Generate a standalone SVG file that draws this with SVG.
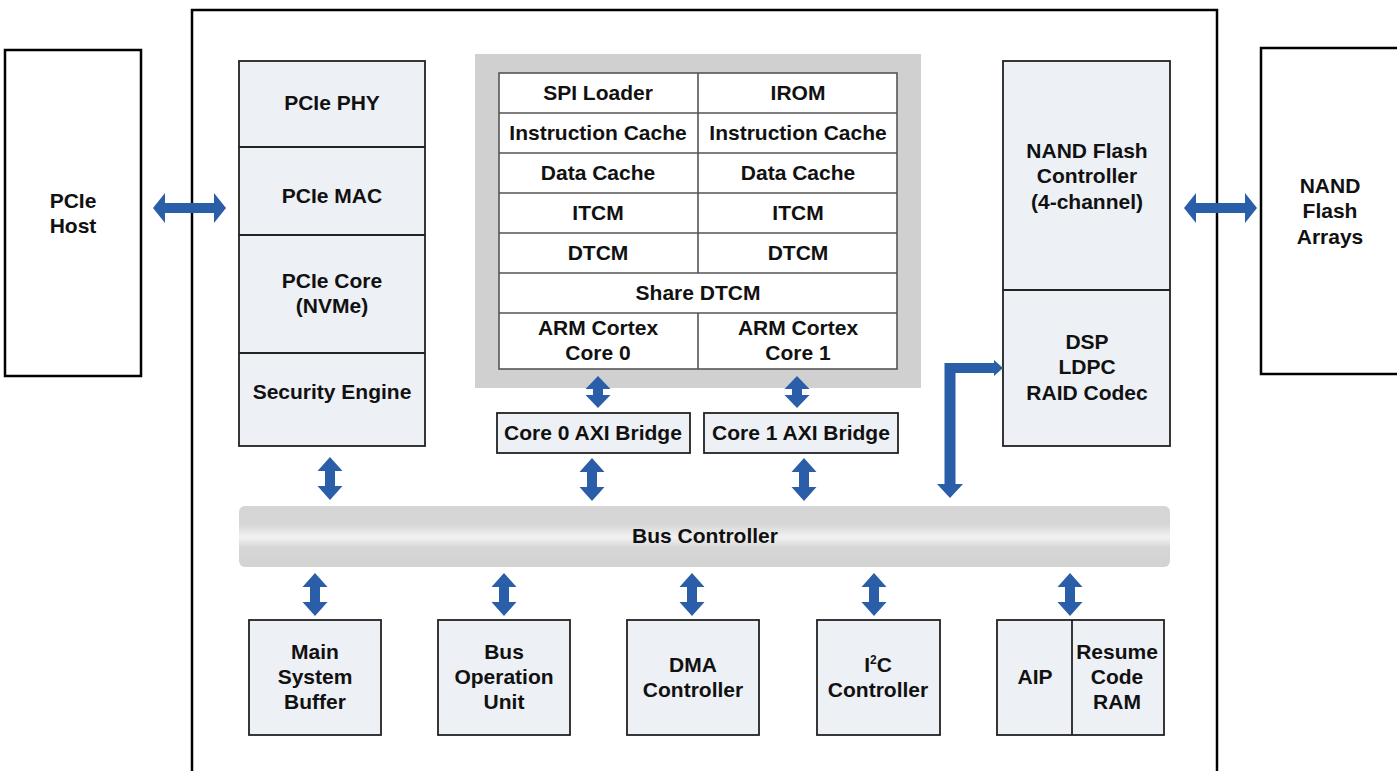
<svg xmlns="http://www.w3.org/2000/svg" width="1397" height="771" viewBox="0 0 1397 771">
<defs>
<style>
.t{font-family:"Liberation Sans",Arial,Helvetica,sans-serif;font-weight:bold;font-size:21px;fill:#111;text-anchor:middle}
.ext{fill:#fff;stroke:#000;stroke-width:2.5}
.blk{fill:#edf0f5;stroke:#222;stroke-width:1.8}
.cell{fill:#fff;stroke:#555;stroke-width:1.6}
.arr{fill:#2b5ea8}
</style>
<linearGradient id="busg" x1="0" y1="0" x2="0" y2="1">
<stop offset="0" stop-color="#d5d5d5"/>
<stop offset="0.3" stop-color="#d6d6d6"/>
<stop offset="0.51" stop-color="#f2f2f2"/>
<stop offset="0.68" stop-color="#d6d6d6"/>
<stop offset="1" stop-color="#d3d3d3"/>
</linearGradient>
</defs>
<rect width="1397" height="771" fill="#fff"/>
<g id="chip"><rect x="192" y="10" width="1025" height="780" fill="none" stroke="#000" stroke-width="2.5"/></g>
<g id="pcie-host"><rect class="ext" x="5" y="50" width="136" height="326"/><text class="t" x="73" y="208">PCIe</text><text class="t" x="73" y="233">Host</text></g>
<g id="nand-arrays"><rect class="ext" x="1261" y="48" width="145" height="326"/><text class="t" x="1330" y="193">NAND</text><text class="t" x="1330" y="218">Flash</text><text class="t" x="1330" y="244">Arrays</text></g>
<g id="pcie-stack">
<rect class="blk" x="239" y="61" width="186" height="385"/>
<line x1="239" y1="147" x2="425" y2="147" stroke="#222" stroke-width="1.8"/>
<line x1="239" y1="235" x2="425" y2="235" stroke="#222" stroke-width="1.8"/>
<line x1="239" y1="353" x2="425" y2="353" stroke="#222" stroke-width="1.8"/>
<text class="t" x="332" y="110">PCIe PHY</text>
<text class="t" x="332" y="203">PCIe MAC</text>
<text class="t" x="332" y="288">PCIe Core</text>
<text class="t" x="332" y="313">(NVMe)</text>
<text class="t" x="332" y="399">Security Engine</text>
</g>
<g id="cpu-cluster">
<rect x="475" y="54" width="446" height="334" fill="#d0d0d0"/>
<rect class="cell" x="499" y="73" width="398" height="296"/>
<g stroke="#555" stroke-width="1.6">
<line x1="499" y1="113" x2="897" y2="113"/>
<line x1="499" y1="153" x2="897" y2="153"/>
<line x1="499" y1="193" x2="897" y2="193"/>
<line x1="499" y1="233" x2="897" y2="233"/>
<line x1="499" y1="273" x2="897" y2="273"/>
<line x1="499" y1="313" x2="897" y2="313"/>
<line x1="698" y1="73" x2="698" y2="273"/>
<line x1="698" y1="313" x2="698" y2="369"/>
</g>
<text class="t" x="598" y="100">SPI Loader</text><text class="t" x="798" y="100">IROM</text>
<text class="t" x="598" y="140">Instruction Cache</text><text class="t" x="798" y="140">Instruction Cache</text>
<text class="t" x="598" y="180">Data Cache</text><text class="t" x="798" y="180">Data Cache</text>
<text class="t" x="598" y="220">ITCM</text><text class="t" x="798" y="220">ITCM</text>
<text class="t" x="598" y="260">DTCM</text><text class="t" x="798" y="260">DTCM</text>
<text class="t" x="698" y="300">Share DTCM</text>
<text class="t" x="598" y="335">ARM Cortex</text><text class="t" x="798" y="335">ARM Cortex</text>
<text class="t" x="598" y="360">Core 0</text><text class="t" x="798" y="360">Core 1</text>
</g>
<g id="axi0"><rect class="blk" x="497" y="413" width="193" height="40"/><text class="t" x="593" y="440">Core 0 AXI Bridge</text></g>
<g id="axi1"><rect class="blk" x="704" y="413" width="194" height="40"/><text class="t" x="801" y="440">Core 1 AXI Bridge</text></g>
<g id="nand-ctrl">
<rect class="blk" x="1003" y="61" width="167" height="385"/>
<line x1="1003" y1="290" x2="1170" y2="290" stroke="#222" stroke-width="1.8"/>
<text class="t" x="1087" y="158">NAND Flash</text>
<text class="t" x="1087" y="183">Controller</text>
<text class="t" x="1087" y="209">(4-channel)</text>
<text class="t" x="1087" y="349">DSP</text>
<text class="t" x="1087" y="374">LDPC</text>
<text class="t" x="1087" y="400">RAID Codec</text>
</g>
<g id="bus"><rect x="239" y="506" width="931" height="61" rx="6" fill="url(#busg)"/><text class="t" x="705" y="543">Bus Controller</text></g>
<g id="msb"><rect class="blk" x="249" y="620" width="132" height="115"/><text class="t" x="315" y="659">Main</text><text class="t" x="315" y="684">System</text><text class="t" x="315" y="709">Buffer</text></g>
<g id="bou"><rect class="blk" x="438" y="620" width="132" height="115"/><text class="t" x="504" y="659">Bus</text><text class="t" x="504" y="684">Operation</text><text class="t" x="504" y="709">Unit</text></g>
<g id="dma"><rect class="blk" x="627" y="620" width="132" height="115"/><text class="t" x="693" y="672">DMA</text><text class="t" x="693" y="697">Controller</text></g>
<g id="i2c"><rect class="blk" x="817" y="620" width="123" height="115"/><text class="t" x="878" y="672">I<tspan font-size="12" dy="-8">2</tspan><tspan dy="8">C</tspan></text><text class="t" x="878" y="697">Controller</text></g>
<g id="aip"><rect class="blk" x="997" y="620" width="167" height="115"/><line x1="1072" y1="620" x2="1072" y2="735" stroke="#222" stroke-width="1.8"/><text class="t" x="1035" y="684">AIP</text><text class="t" x="1117" y="659">Resume</text><text class="t" x="1117" y="684">Code</text><text class="t" x="1117" y="709">RAM</text></g>
<g id="connectors">
<polygon class="arr" points="153,208 165,193 165,203 214,203 214,193 226,208 214,223 214,213 165,213 165,223"/>
<polygon class="arr" points="1184,208 1196,193 1196,203 1245,203 1245,193 1257,208 1245,223 1245,213 1196,213 1196,223"/>
<polygon class="arr" points="598,376 610.5,389 603,389 603,395 610.5,395 598,408 585.5,395 593,395 593,389 585.5,389"/>
<polygon class="arr" points="797,376 809.5,389 802,389 802,395 809.5,395 797,408 784.5,395 792,395 792,389 784.5,389"/>
<polygon class="arr" points="330,457 342.5,471 335,471 335,486 342.5,486 330,500 317.5,486 325,486 325,471 317.5,471"/>
<polygon class="arr" points="592,458 604.5,472 597,472 597,487 604.5,487 592,501 579.5,487 587,487 587,472 579.5,472"/>
<polygon class="arr" points="804,458 816.5,472 809,472 809,487 816.5,487 804,501 791.5,487 799,487 799,472 791.5,472"/>
<polygon class="arr" points="944.5,363 994,363 994,360 1003,368 994,376 994,373 955.5,373 955.5,484 963,484 950,498 937,484 944.5,484"/>
<polygon class="arr" points="315,573 327.5,587 320,587 320,602 327.5,602 315,616 302.5,602 310,602 310,587 302.5,587"/>
<polygon class="arr" points="504,573 516.5,587 509,587 509,602 516.5,602 504,616 491.5,602 499,602 499,587 491.5,587"/>
<polygon class="arr" points="692,573 704.5,587 697,587 697,602 704.5,602 692,616 679.5,602 687,602 687,587 679.5,587"/>
<polygon class="arr" points="874,573 886.5,587 879,587 879,602 886.5,602 874,616 861.5,602 869,602 869,587 861.5,587"/>
<polygon class="arr" points="1070,573 1082.5,587 1075,587 1075,602 1082.5,602 1070,616 1057.5,602 1065,602 1065,587 1057.5,587"/>
</g>
</svg>
